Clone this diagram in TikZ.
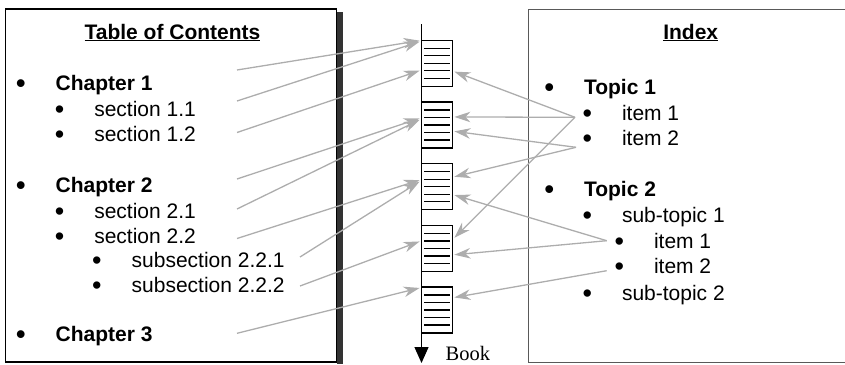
\documentclass[tikz,border=0pt]{standalone}
\usepackage{fontspec}
\setmainfont{Liberation Sans}
\newfontfamily\bookfont{Liberation Serif}
\usetikzlibrary{arrows.meta, positioning, calc}

\newcommand{\listfont}{\fontsize{21}{25}\selectfont}
\newcommand{\bulitem}[1]{\makebox[38.5pt][l]{\hspace*{-1pt}{\fontsize{27}{27}\selectfont\raisebox{-1.8pt}{\textbullet}}}#1}

\begin{document}
\begin{tikzpicture}[x=1pt, y=-1pt,
    entry/.style={anchor=base west, inner sep=0pt, font=\listfont},
    heading/.style={anchor=base, inner sep=0pt, font=\listfont\bfseries},
    bookpage/.style={rectangle, draw, fill=white, line width=1.3pt, minimum width=30.5pt, minimum height=46pt, inner sep=0pt},
    link/.style={draw=black!32, line width=1.3pt, -{Stealth[length=16pt, width=10.5pt, inset=5pt]}},
]
\useasboundingbox (0,0) rectangle (845,364);

% the two frames
\fill[black!80] (337,12) rectangle (342.5,364);
\draw[line width=1.4pt] (5.5,9) rectangle (336.5,362);
\draw[black!65, line width=1.8pt] (528.5,9.5) rectangle (848,362.5);

% table of contents
\node[heading] (toctitle) at (172.5,39) {\underline{Table of Contents}};
\node[entry, font=\listfont\bfseries] (ch1) at (17,90.2) {\bulitem{Chapter 1}};
\node[entry] (sec11) at (55.6,116.2) {\bulitem{section 1.1}};
\node[entry] (sec12) at (55.6,141.2) {\bulitem{section 1.2}};
\node[entry, font=\listfont\bfseries] (ch2) at (17,192.7) {\bulitem{Chapter 2}};
\node[entry] (sec21) at (55.6,218.7) {\bulitem{section 2.1}};
\node[entry] (sec22) at (55.6,243.2) {\bulitem{section 2.2}};
\node[entry] (sub221) at (93,267.7) {\bulitem{subsection 2.2.1}};
\node[entry] (sub222) at (93,292.2) {\bulitem{subsection 2.2.2}};
\node[entry, font=\listfont\bfseries] (ch3) at (17,341.2) {\bulitem{Chapter 3}};

% index
\node[heading] (idxtitle) at (690.7,39) {\underline{Index}};
\node[entry, font=\listfont\bfseries] (top1) at (545.3,94.2) {\bulitem{Topic 1}};
\node[entry] (it11) at (583.3,120.7) {\bulitem{item 1}};
\node[entry] (it12) at (583.3,145.7) {\bulitem{item 2}};
\node[entry, font=\listfont\bfseries] (top2) at (545.3,196.2) {\bulitem{Topic 2}};
\node[entry] (st1) at (583.3,222.2) {\bulitem{sub-topic 1}};
\node[entry] (it211) at (615.3,248.2) {\bulitem{item 1}};
\node[entry] (it212) at (615.3,273.2) {\bulitem{item 2}};
\node[entry] (st2) at (583.3,300.5) {\bulitem{sub-topic 2}};

% the book with its pages
\coordinate (booktop) at (421.5,24);
\coordinate (bookend) at (421.5,363);
\draw[line width=1.3pt, -{Triangle[length=16pt, width=14pt]}] (booktop) -- (bookend);
\foreach \i in {1,...,5} {
  \node[bookpage] (p\i) at (437,{63.3+61.7*(\i-1)}) {};
  \foreach \k in {-2,...,2}
    \draw[line width=1.3pt] ([xshift=3pt, yshift={\k*7.5pt}]p\i.west) -- ([xshift=-2.5pt, yshift={\k*7.5pt}]p\i.east);
}
\node[anchor=base west, inner sep=0pt, font=\bookfont\fontsize{20.5}{24}\selectfont] (book) at (445.5,360) {Book};

% contents -> pages
\coordinate (sch1) at (237,70);
\coordinate (ssec11) at (237,101);
\coordinate (ssec12) at (237,132.5);
\coordinate (sch2) at (237,179);
\coordinate (ssec21) at (237,209);
\coordinate (ssec22) at (237,238.5);
\coordinate (ssub221) at (300,257);
\coordinate (ssub222) at (300,286);
\coordinate (sch3) at (237,333.3);
\draw[link] (sch1) -- ([xshift=-1.5pt, yshift=-1pt]p1.north west);
\draw[link] (ssec11) -- ([xshift=-1.5pt, yshift=-2pt]p1.north west);
\draw[link] (ssec12) -- ([xshift=-1.5pt, yshift=-31pt]p1.north west);
\draw[link] (sch2) -- ([xshift=-1.5pt, yshift=-17pt]p2.north west);
\draw[link] (ssec21) -- ([xshift=-1.5pt, yshift=-18.5pt]p2.north west);
\draw[link] (ssec22) -- ([xshift=-1.5pt, yshift=-17pt]p3.north west);
\draw[link] (ssub221) -- ([xshift=-1.5pt, yshift=-18.5pt]p3.north west);
\draw[link] (ssub222) -- ([xshift=-1.5pt, yshift=-16.7pt]p4.north west);
\draw[link] (sch3) -- ([xshift=-1.5pt, yshift=-1.5pt]p5.north west);

% index -> pages
\coordinate (sit11) at (575,117.3);
\coordinate (sit12) at (576,147.3);
\coordinate (sit211) at (606.7,240.7);
\coordinate (sit212) at (606.7,270.7);
\draw[link] (sit11) -- ([xshift=1.5pt, yshift=-32pt]p1.north east);
\draw[link] (sit11) -- ([xshift=1.5pt, yshift=-15.6pt]p2.north east);
\draw[link] (sit11) -- ([xshift=1.5pt, yshift=-13pt]p4.north east);
\draw[link] (sit12) -- ([xshift=1.5pt, yshift=-30pt]p2.north east);
\draw[link] (sit12) -- ([xshift=1.5pt, yshift=-13.7pt]p3.north east);
\draw[link] (sit211) -- ([xshift=1.5pt, yshift=-32pt]p3.north east);
\draw[link] (sit211) -- ([xshift=1.5pt, yshift=-30pt]p4.north east);
\draw[link] (sit212) -- ([xshift=1.5pt, yshift=-11pt]p5.north east);
\end{tikzpicture}
\end{document}
